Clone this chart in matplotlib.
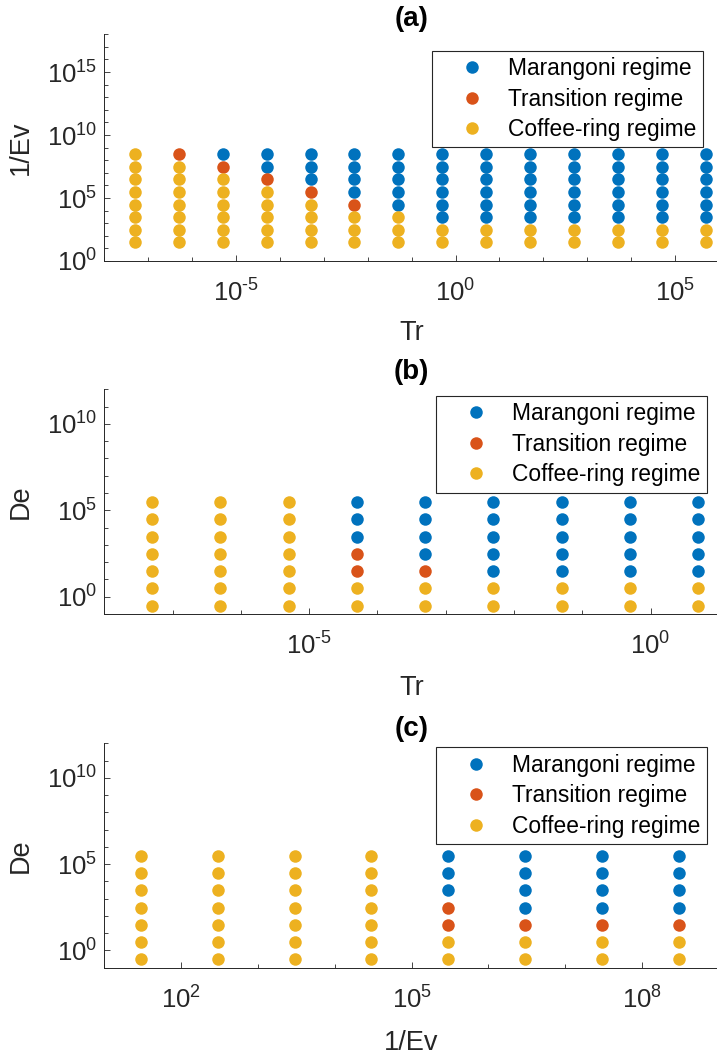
import numpy as np
import matplotlib
matplotlib.use("Agg")
import matplotlib.pyplot as plt
from matplotlib.ticker import FixedLocator, LogLocator, FuncFormatter, NullFormatter
from matplotlib.lines import Line2D

plt.rcParams['font.family'] = ['Liberation Sans', 'DejaVu Sans']
plt.rcParams['mathtext.fontset'] = 'custom'
plt.rcParams['mathtext.rm'] = 'Liberation Sans'
plt.rcParams['mathtext.it'] = 'Liberation Sans:italic'
plt.rcParams['mathtext.bf'] = 'Liberation Sans:bold'
plt.rcParams['axes.unicode_minus'] = False

# ---------------- data ----------------
# Panel (a): Tr vs 1/Ev
tr_a = [5e-8, 5e-7, 5e-6, 5e-5, 5e-4, 5e-3, 5e-2, 5e-1, 5e0, 5e1, 5e2, 5e3, 5e4, 5e5]
inv_ev_a = [3e1, 3e2, 3e3, 3e4, 3e5, 3e6, 3e7, 3e8]
# per column: number of coffee-ring points (from bottom), then transition points above them; rest Marangoni
coffee_a = [8, 7, 6, 5, 4, 3, 3, 2, 2, 2, 2, 2, 2, 2]
trans_a = [0, 1, 1, 1, 1, 1, 0, 0, 0, 0, 0, 0, 0, 0]

# Panel (b): Tr vs De
tr_b = [5e-8, 5e-7, 5e-6, 5e-5, 5e-4, 5e-3, 5e-2, 5e-1, 5e0]
de_b = [3e-1, 3e0, 3e1, 3e2, 3e3, 3e4, 3e5]
coffee_b = [7, 7, 7, 2, 2, 2, 2, 2, 2]
trans_b = [0, 0, 0, 2, 1, 0, 0, 0, 0]

# Panel (c): 1/Ev vs De
inv_ev_c = [3e1, 3e2, 3e3, 3e4, 3e5, 3e6, 3e7, 3e8]
de_c = [3e-1, 3e0, 3e1, 3e2, 3e3, 3e4, 3e5]
coffee_c = [7, 7, 7, 7, 2, 2, 2, 2]
trans_c = [0, 0, 0, 0, 2, 1, 1, 1]

labels = ['Marangoni regime', 'Transition regime', 'Coffee-ring regime']
colors = ['#0072BD', '#D95319', '#EDB120']

AX_COLOR = '#262626'
MS = 9.0


def pow_fmt(v, pos):
    e = int(round(np.log10(v)))
    if e < 0:
        return r'$\mathdefault{10^{\text{-}%d}}$' % (-e)
    return r'$\mathdefault{10^{%d}}$' % e


def split(xs, ys, coffee, trans):
    groups = {0: ([], []), 1: ([], []), 2: ([], [])}
    for i, x in enumerate(xs):
        for j, y in enumerate(ys):
            if j < coffee[i]:
                g = 2
            elif j < coffee[i] + trans[i]:
                g = 1
            else:
                g = 0
            groups[g][0].append(x)
            groups[g][1].append(y)
    return groups


def panel(ax, xs, ys, coffee, trans, xlim, ylim, xmaj, ymaj, xlabel, ylabel,
          title, title_y, legend_anchor):
    groups = split(xs, ys, coffee, trans)
    for g in range(3):
        ax.plot(groups[g][0], groups[g][1], linestyle='none', marker='o',
                ms=MS, mfc=colors[g], mec='none', label=labels[g], clip_on=False)
    ax.set_xscale('log')
    ax.set_yscale('log')
    ax.set_xlim(*xlim)
    ax.set_ylim(*ylim)
    ax.xaxis.set_major_locator(FixedLocator(xmaj))
    ax.yaxis.set_major_locator(FixedLocator(ymaj))
    ax.xaxis.set_major_formatter(FuncFormatter(pow_fmt))
    ax.yaxis.set_major_formatter(FuncFormatter(pow_fmt))
    ax.xaxis.set_minor_locator(LogLocator(base=10, subs=(1.0,), numticks=100))
    ax.yaxis.set_minor_locator(LogLocator(base=10, subs=(1.0,), numticks=100))
    ax.xaxis.set_minor_formatter(NullFormatter())
    ax.yaxis.set_minor_formatter(NullFormatter())
    for s in ['top', 'right']:
        ax.spines[s].set_visible(False)
    for s in ['left', 'bottom']:
        ax.spines[s].set_color(AX_COLOR)
        ax.spines[s].set_linewidth(0.7)
    ax.tick_params(which='both', direction='in', colors=AX_COLOR, width=0.6,
                   labelsize=18.5)
    ax.tick_params(which='major', length=4.6)
    ax.tick_params(which='minor', length=3.2)
    ax.tick_params(axis='x', which='major', pad=13.5)
    ax.tick_params(axis='y', which='major', pad=5)
    ax.set_xlabel(xlabel, fontsize=19.5, color=AX_COLOR)
    ax.set_ylabel(ylabel, fontsize=19.5, color=AX_COLOR)
    ax.text(0.5, title_y, title, transform=ax.transAxes, ha='center', va='bottom',
            fontsize=20, fontweight='bold', color='black')
    handles = [Line2D([], [], linestyle='none', marker='o', ms=MS, mfc=c, mec='none')
               for c in colors]
    leg = ax.legend(handles, labels, loc='upper right', bbox_to_anchor=legend_anchor,
                    bbox_transform=fig.transFigure, fontsize=16.4, frameon=True,
                    fancybox=False, shadow=False, borderpad=0.28, labelspacing=0.33,
                    handlelength=2.9, handletextpad=0.15, borderaxespad=0.0,
                    numpoints=1)
    leg.get_frame().set_edgecolor(AX_COLOR)
    leg.get_frame().set_linewidth(0.8)
    leg.get_frame().set_alpha(1.0)
    return ax


W, H = 717, 1055
fig = plt.figure(figsize=(W / 100, H / 100), dpi=100)
left = 104.3 / W
width = 614.6 / W

ax_a = fig.add_axes([left, 1 - 261 / H, width, 226.7 / H])
ax_b = fig.add_axes([left, 1 - 614 / H, width, 224.7 / H])
ax_c = fig.add_axes([left, 1 - 967.7 / H, width, 224.4 / H])

panel(ax_a, tr_a, inv_ev_a, coffee_a, trans_a, (1e-8, 1e6), (1e0, 1e18),
      [1e-5, 1e0, 1e5], [1e0, 1e5, 1e10, 1e15], 'Tr', '1/Ev', '(a)', 1.012,
      (702.7 / W, 1 - 50.7 / H))
panel(ax_b, tr_b, de_b, coffee_b, trans_b, (1e-8, 1e1), (1e-1, 1e12),
      [1e-5, 1e0], [1e0, 1e5, 1e10], 'Tr', 'De', '(b)', 1.019,
      (706.7 / W, 1 - 396 / H))
panel(ax_c, inv_ev_c, de_c, coffee_c, trans_c, (1e1, 1e9), (1e-1, 1e12),
      [1e2, 1e5, 1e8], [1e0, 1e5, 1e10], '1/Ev', 'De', '(c)', 1.008,
      (706.7 / W, 1 - 747.3 / H))

for ax in (ax_a, ax_b, ax_c):
    ax.yaxis.set_label_coords(-0.115, 0.5)
ax_a.xaxis.set_label_coords(0.5, -59 / 226.7)
ax_b.xaxis.set_label_coords(0.5, -61 / 224.7)
ax_c.xaxis.set_label_coords(0.5, -62.3 / 224.4)

fig.savefig('out.png', dpi=100)
